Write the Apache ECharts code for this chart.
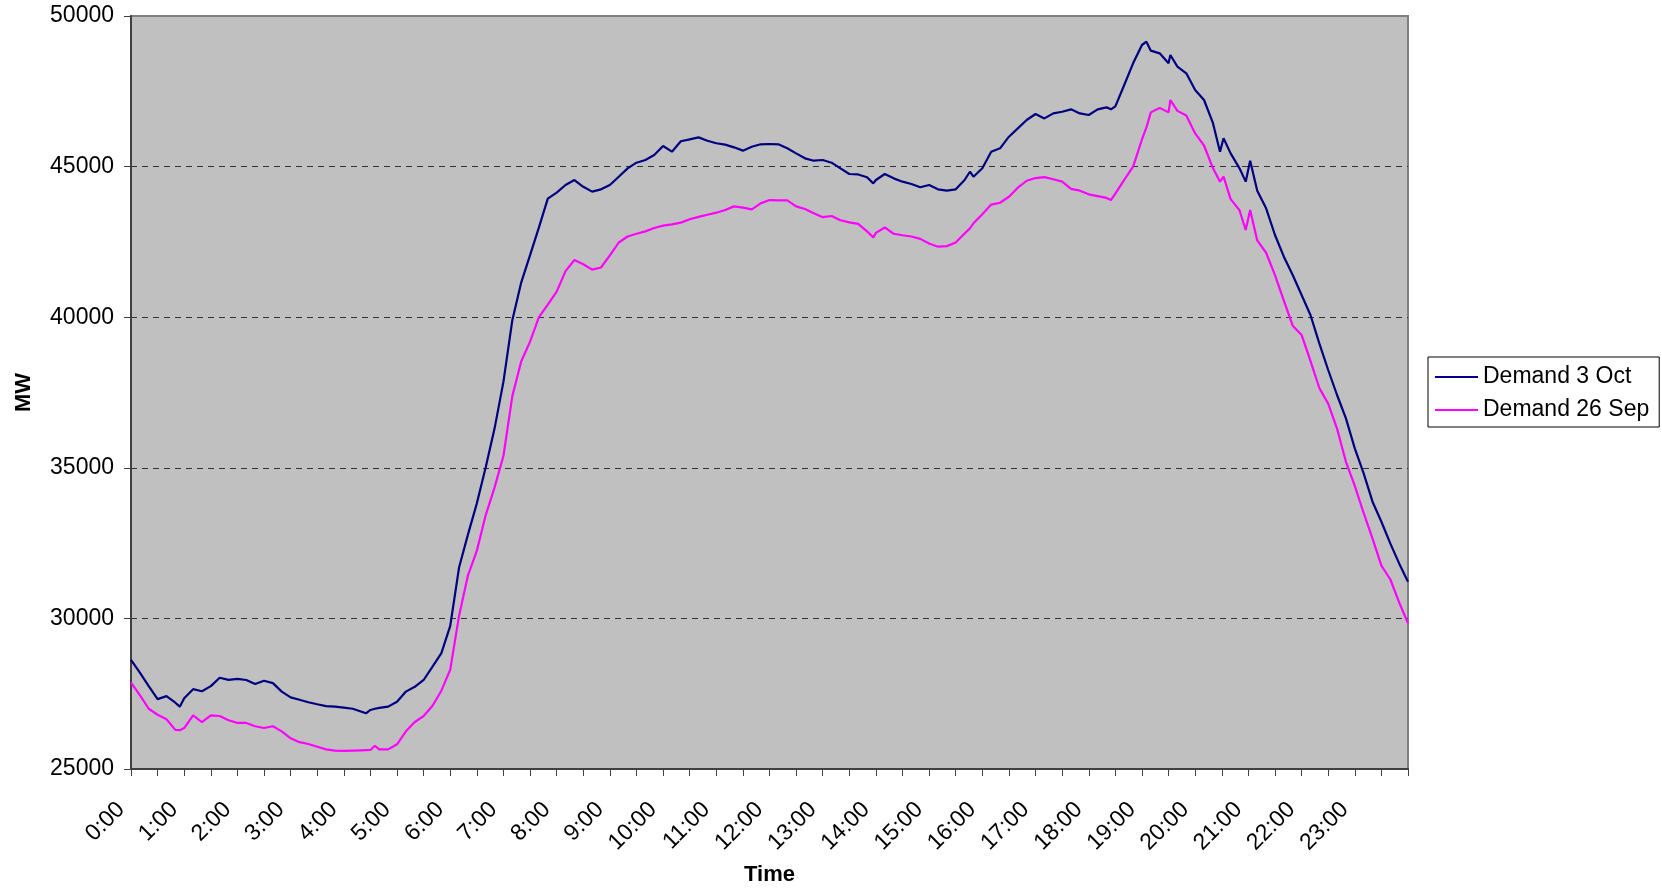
<!DOCTYPE html>
<html>
<head>
<meta charset="utf-8">
<script src="https://cdn.jsdelivr.net/npm/echarts@6/dist/echarts.min.js"></script>
<style>
html,body{margin:0;padding:0;background:#fff;}
#chart{width:1662px;height:888px;}
</style>
</head>
<body>
<div id="chart"></div>
<script>
// minutes after midnight
const minutes = [0,10,20,30,40,50,55,60,70,80,90,100,110,120,130,140,150,160,170,180,190,200,210,220,230,240,250,260,265,270,275,280,290,300,310,320,330,340,350,360,370,380,390,400,410,420,430,440,450,460,470,480,490,500,510,520,530,540,550,560,570,580,590,600,610,620,630,640,650,660,670,680,690,700,710,720,730,740,750,760,770,780,790,800,810,820,830,837,840,850,860,870,880,890,900,910,920,930,940,946,950,960,970,980,990,1000,1010,1020,1030,1040,1050,1060,1070,1080,1090,1100,1105,1110,1120,1130,1140,1145,1150,1160,1170,1172,1180,1190,1200,1210,1220,1228,1232,1240,1250,1257,1262,1270,1280,1290,1300,1310,1320,1330,1340,1350,1360,1370,1380,1390,1400,1410,1420,1430,1440];

const demandOct3 = [28620,28200,27750,27320,27420,27200,27070,27350,27650,27580,27750,28030,27960,27990,27955,27820,27930,27850,27570,27380,27300,27215,27150,27090,27070,27040,27000,26900,26850,26960,27000,27030,27070,27235,27570,27730,27955,28400,28850,29750,31700,32790,33820,35015,36310,37860,39900,41150,42060,42980,43935,44135,44390,44555,44330,44170,44245,44390,44665,44940,45130,45220,45385,45684,45495,45840,45906,45970,45860,45775,45730,45640,45530,45660,45740,45750,45740,45607,45440,45275,45196,45219,45130,44943,44755,44740,44645,44444,44555,44755,44610,44500,44422,44313,44389,44245,44200,44245,44555,44830,44665,44943,45495,45607,45993,46270,46547,46746,46600,46767,46822,46900,46767,46713,46902,46968,46900,47000,47709,48428,49037,49147,48850,48760,48428,48705,48317,48097,47543,47211,46450,45495,45939,45440,44943,44500,45196,44200,43615,42729,42010,41400,40737,40073,39133,38247,37417,36642,35646,34815,33875,33210,32490,31826,31220];

const demandSep26 = [27870,27450,27000,26800,26650,26300,26290,26360,26780,26560,26780,26760,26620,26530,26530,26420,26360,26420,26250,26020,25890,25830,25740,25650,25610,25600,25610,25620,25625,25630,25770,25650,25650,25820,26250,26560,26760,27100,27600,28300,30100,31430,32250,33430,34350,35400,37380,38530,39190,40000,40420,40850,41530,41900,41760,41580,41650,42050,42480,42680,42770,42850,42960,43040,43080,43140,43250,43330,43400,43470,43560,43680,43640,43580,43780,43890,43880,43880,43680,43590,43450,43320,43360,43220,43150,43100,42850,42650,42800,42980,42770,42720,42680,42600,42450,42340,42360,42480,42780,42950,43117,43420,43740,43800,44000,44300,44530,44620,44650,44580,44500,44260,44200,44080,44020,43960,43891,44100,44560,45000,45900,46300,46800,46950,46800,47211,46850,46700,46100,45700,44950,44500,44665,43920,43550,42895,43560,42550,42140,41400,40550,39720,39410,38550,37650,37130,36300,35200,34400,33500,32650,31750,31300,30530,29840];

const seriesNames = ['Demand 3 Oct', 'Demand 26 Sep'];
const yTicks = [25000, 30000, 35000, 40000, 45000, 50000];

const FONT = "'Liberation Sans', Arial, sans-serif";
const chart = echarts.init(document.getElementById('chart'), null, {renderer: 'canvas'});

function pairs(vals){ return minutes.map((m, i) => [m, vals[i]]); }

chart.setOption({
  animation: false,
  backgroundColor: '#ffffff',
  grid: {
    left: 131, top: 16, right: 254, bottom: 119,
    containLabel: false,
    outerBoundsMode: 'none',
    show: true,
    backgroundColor: '#C0C0C0',
    borderColor: '#808080',
    borderWidth: 2
  },
  legend: {
    orient: 'vertical',
    left: 1428, top: 357,
    padding: [7, 10, 4, 7],
    itemGap: 7,
    itemWidth: 43,
    itemHeight: 2,
    icon: 'rect',
    backgroundColor: '#ffffff',
    borderColor: '#000000',
    borderWidth: 1,
    borderRadius: 0,
    textStyle: {fontFamily: FONT, fontSize: 23, color: '#000', lineHeight: 26},
    data: seriesNames
  },
  xAxis: {
    type: 'value',
    min: 0, max: 1440, interval: 30,
    name: 'Time',
    nameLocation: 'middle',
    nameGap: 95,
    nameTextStyle: {fontFamily: FONT, fontSize: 22, fontWeight: 'bold', color: '#000'},
    axisLine: {show: true, onZero: false, lineStyle: {color: '#404040', width: 2}},
    axisTick: {show: true, inside: false, length: 7, lineStyle: {color: '#404040', width: 1}},
    axisLabel: {
      rotate: 45,
      margin: 27,
      padding: [0, 14, 0, 0],
      fontFamily: FONT, fontSize: 23, color: '#000',
      formatter: function (v) { return (v % 60 === 0 && v < 1440) ? (v / 60) + ':00' : ''; }
    },
    splitLine: {show: false}
  },
  yAxis: {
    type: 'value',
    min: yTicks[0], max: yTicks[yTicks.length - 1], interval: 5000,
    name: 'MW',
    nameLocation: 'middle',
    nameGap: 96,
    nameTextStyle: {fontFamily: FONT, fontSize: 22, fontWeight: 'bold', color: '#000'},
    axisLine: {show: true, lineStyle: {color: '#404040', width: 2}},
    axisTick: {show: true, inside: false, length: 7, lineStyle: {color: '#404040', width: 1}},
    axisLabel: {margin: 17, fontFamily: FONT, fontSize: 23, color: '#000',
      formatter: function (v) { return String(v); }},
    splitLine: {
      show: true,
      lineStyle: {
        color: ['rgba(0,0,0,0)', '#333', '#333', '#333', '#333', 'rgba(0,0,0,0)'],
        type: [6, 5],
        width: 1
      }
    }
  },
  series: [
    {
      name: seriesNames[0],
      type: 'line',
      data: pairs(demandOct3),
      symbol: 'none',
      lineStyle: {color: '#000080', width: 2.2},
      itemStyle: {color: '#000080'},
      z: 3
    },
    {
      name: seriesNames[1],
      type: 'line',
      data: pairs(demandSep26),
      symbol: 'none',
      lineStyle: {color: '#FF00FF', width: 2.2},
      itemStyle: {color: '#FF00FF'},
      z: 2
    }
  ]
});
</script>
</body>
</html>
